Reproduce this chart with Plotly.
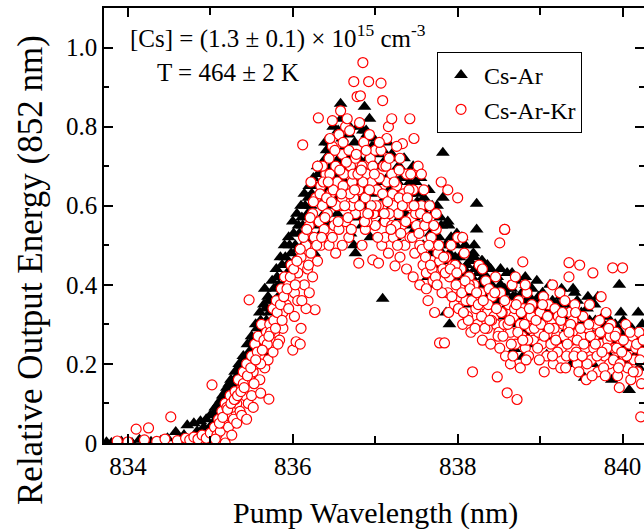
import plotly.graph_objects as go

# ---------------- data ----------------
# Cs-Ar (filled black triangles)
ar_wl = [
    833.74, 833.80, 833.92, 834.05, 834.14, 834.28, 834.40, 834.48, 834.58, 834.62,
    834.68, 834.72, 834.80, 834.84, 834.88, 834.92, 834.95, 834.98, 835.00, 835.03,
    835.06, 835.08, 835.10, 835.12, 835.15, 835.18, 835.20, 835.22, 835.25, 835.28,
    835.10, 835.16, 835.22, 835.28, 835.30, 835.32, 835.35, 835.38, 835.40, 835.42,
    835.45, 835.48, 835.50, 835.52, 835.55, 835.58, 835.60, 835.62, 835.65, 835.68,
    835.46, 835.54, 835.62, 835.66, 835.70, 835.72, 835.75, 835.78, 835.80, 835.83,
    835.85, 835.88, 835.90, 835.93, 835.95, 835.98, 836.00, 836.03, 836.05, 836.08,
    835.86, 835.92, 835.97, 836.02, 836.06, 836.10, 836.12, 836.14, 836.16, 836.18,
    836.20, 836.22, 836.25, 836.28, 836.30, 836.33, 836.35, 836.38, 836.40, 836.43,
    836.24, 836.32, 836.36, 836.42, 836.45, 836.48, 836.50, 836.52, 836.55, 836.58,
    836.26, 836.34, 836.44, 836.46, 836.50, 836.54, 836.56, 836.60, 836.62, 836.64,
    836.66, 836.68, 836.70, 836.72, 836.75, 836.78, 836.80, 836.82, 836.85, 836.88,
    836.70, 836.74, 836.86, 836.90, 836.92, 836.95, 836.98, 837.00, 837.02, 837.04,
    836.76, 836.84, 836.94, 836.96, 837.06, 837.08, 837.10, 837.12, 837.15, 837.18,
    837.20, 837.22, 837.25, 837.28, 837.30, 837.32, 837.35, 837.38, 837.40, 837.42,
    837.24, 837.34, 837.44, 837.46, 837.48, 837.50, 837.52, 837.55, 837.58, 837.60,
    837.62, 837.65, 837.68, 837.70, 837.72, 837.75, 837.78, 837.80, 837.82, 837.85,
    837.64, 837.74, 837.84, 837.88, 837.90, 837.92, 837.95, 837.98, 838.00, 838.02,
    838.05, 838.08, 838.10, 838.12, 838.15, 838.18, 838.20, 838.23, 838.25, 838.28,
    837.86, 837.90, 838.14, 838.30, 838.32, 838.35, 838.38, 838.40, 838.42, 838.45,
    838.48, 838.50, 838.52, 838.55, 838.58, 838.60, 838.63, 838.65, 838.68, 838.70,
    838.72, 838.75, 838.78, 838.80, 838.83, 838.85, 838.88, 838.90, 838.93, 838.95,
    838.98, 839.00, 839.03, 839.05, 839.08, 839.10, 839.13, 839.15, 839.18, 839.20,
    839.23, 839.25, 839.28, 839.30, 839.33, 839.35, 839.38, 839.40, 839.43, 839.45,
    839.48, 839.50, 839.54, 839.56, 839.60, 839.63, 839.66, 839.70, 839.73, 839.76,
    839.80, 839.83, 839.87, 839.90, 839.93, 839.96, 840.00, 840.03, 840.08, 840.12,
    839.96, 839.98, 840.05, 840.15, 840.18, 840.20, 840.22, 840.24, 839.40, 839.70,
    835.00, 835.05, 835.14, 835.24, 835.34, 835.44, 835.56, 835.64, 835.74, 835.84,
    838.20, 838.36, 838.52, 838.66, 838.82, 838.96, 839.12, 839.26, 839.42, 839.58,
    838.69, 838.79, 839.08, 836.58, 836.87, 836.60, 836.93, 837.82, 838.23, 837.09,
    835.04, 835.09, 835.13, 835.19, 835.23, 835.27, 835.31, 835.36, 835.41, 835.47,
    835.51, 835.57, 835.61, 835.67, 835.71, 835.77, 835.81, 835.87, 835.91, 835.96,
    836.01, 836.07, 836.11, 836.15, 836.19, 836.23, 836.27, 836.31, 836.37, 836.41,
    836.47, 836.53, 836.57, 836.63, 836.67, 836.73, 836.77, 836.83, 836.87, 836.91,
    836.97, 837.01, 837.07, 837.11, 837.17, 837.21, 837.27, 837.31, 837.37, 837.41,
    837.47, 837.51, 837.57, 837.61, 837.67, 837.71, 837.77, 837.81, 837.87, 837.91,
    837.97, 838.01, 838.07, 838.11, 838.17, 838.21, 838.27, 838.31, 838.37, 838.41,
    838.47, 838.53, 838.57, 838.61, 838.67, 838.71, 838.77, 838.81, 838.87, 838.91,
    838.97, 839.01, 839.07, 839.11, 839.17, 839.21, 839.27, 839.31, 839.37, 839.41,
    839.47, 839.51, 839.57, 839.61, 839.67, 839.71, 839.77, 839.81, 839.87, 839.91,
    839.97, 840.01, 840.07, 840.11, 840.17, 840.21, 839.64, 839.84, 840.04, 840.19,
    836.39, 836.49, 836.59, 836.69, 836.79, 836.89, 836.99, 837.09, 837.19, 837.29,
    837.39, 837.49, 837.59, 837.69, 837.79, 837.89, 837.99, 838.09, 838.19, 838.29,
]
ar_e = [
    0.002, 0.000, 0.004, 0.000, 0.008, 0.003, 0.006, 0.012, 0.028, 0.006,
    0.020, 0.045, 0.050, 0.030, 0.055, 0.040, 0.060, 0.035, 0.070, 0.050,
    0.090, 0.060, 0.100, 0.080, 0.120, 0.100, 0.140, 0.120, 0.160, 0.140,
    0.050, 0.070, 0.090, 0.110, 0.180, 0.150, 0.200, 0.170, 0.220, 0.190,
    0.250, 0.210, 0.270, 0.240, 0.300, 0.260, 0.330, 0.280, 0.350, 0.310,
    0.180, 0.220, 0.250, 0.390, 0.370, 0.330, 0.410, 0.360, 0.440, 0.400,
    0.470, 0.420, 0.500, 0.450, 0.520, 0.480, 0.560, 0.500, 0.580, 0.530,
    0.380, 0.410, 0.440, 0.460, 0.490, 0.600, 0.550, 0.630, 0.510, 0.580,
    0.650, 0.600, 0.670, 0.550, 0.700, 0.620, 0.660, 0.580, 0.720, 0.640,
    0.520, 0.500, 0.560, 0.600, 0.760, 0.680, 0.740, 0.620, 0.790, 0.700,
    0.480, 0.530, 0.550, 0.700, 0.660, 0.580, 0.720, 0.770, 0.680, 0.750,
    0.600, 0.780, 0.700, 0.640, 0.760, 0.570, 0.720, 0.660, 0.790, 0.740,
    0.530, 0.500, 0.600, 0.780, 0.680, 0.630, 0.770, 0.700, 0.580, 0.730,
    0.480, 0.550, 0.520, 0.750, 0.660, 0.560, 0.710, 0.620, 0.760, 0.680,
    0.730, 0.640, 0.600, 0.700, 0.570, 0.670, 0.720, 0.620, 0.550, 0.660,
    0.520, 0.500, 0.600, 0.700, 0.540, 0.630, 0.580, 0.670, 0.500, 0.600,
    0.550, 0.640, 0.480, 0.580, 0.520, 0.600, 0.450, 0.550, 0.620, 0.500,
    0.420, 0.400, 0.440, 0.560, 0.480, 0.520, 0.450, 0.500, 0.420, 0.470,
    0.520, 0.440, 0.480, 0.380, 0.460, 0.410, 0.500, 0.540, 0.430, 0.400,
    0.330, 0.300, 0.350, 0.460, 0.370, 0.420, 0.360, 0.440, 0.390, 0.340,
    0.420, 0.360, 0.400, 0.320, 0.380, 0.430, 0.350, 0.390, 0.300, 0.370,
    0.410, 0.340, 0.380, 0.280, 0.400, 0.360, 0.330, 0.390, 0.250, 0.350,
    0.370, 0.320, 0.380, 0.290, 0.330, 0.350, 0.310, 0.360, 0.270, 0.340,
    0.300, 0.370, 0.250, 0.330, 0.290, 0.350, 0.200, 0.310, 0.270, 0.360,
    0.280, 0.330, 0.165, 0.260, 0.310, 0.240, 0.350, 0.280, 0.220, 0.320,
    0.270, 0.300, 0.160, 0.250, 0.290, 0.210, 0.270, 0.240, 0.134, 0.260,
    0.400, 0.330, 0.300, 0.220, 0.280, 0.190, 0.250, 0.300, 0.390, 0.370,
    0.030, 0.040, 0.060, 0.100, 0.130, 0.160, 0.200, 0.230, 0.280, 0.330,
    0.470, 0.450, 0.440, 0.430, 0.420, 0.410, 0.400, 0.390, 0.380, 0.370,
    0.238, 0.218, 0.223, 0.858, 0.850, 0.823, 0.820, 0.734, 0.605, 0.365,
    0.075, 0.085, 0.110, 0.130, 0.150, 0.130, 0.165, 0.190, 0.210, 0.230,
    0.260, 0.290, 0.310, 0.340, 0.360, 0.390, 0.420, 0.450, 0.470, 0.500,
    0.530, 0.550, 0.570, 0.600, 0.620, 0.630, 0.650, 0.680, 0.700, 0.740,
    0.640, 0.710, 0.600, 0.660, 0.720, 0.680, 0.620, 0.700, 0.640, 0.720,
    0.600, 0.650, 0.700, 0.580, 0.640, 0.600, 0.660, 0.620, 0.580, 0.630,
    0.570, 0.610, 0.550, 0.580, 0.530, 0.500, 0.520, 0.480, 0.500, 0.460,
    0.470, 0.450, 0.430, 0.450, 0.420, 0.440, 0.400, 0.420, 0.390, 0.400,
    0.380, 0.360, 0.390, 0.350, 0.370, 0.330, 0.360, 0.320, 0.370, 0.310,
    0.340, 0.360, 0.310, 0.330, 0.300, 0.350, 0.320, 0.280, 0.340, 0.290,
    0.320, 0.300, 0.340, 0.280, 0.310, 0.260, 0.300, 0.320, 0.270, 0.300,
    0.280, 0.310, 0.260, 0.290, 0.240, 0.270, 0.200, 0.220, 0.200, 0.330,
    0.760, 0.800, 0.820, 0.800, 0.800, 0.790, 0.750, 0.740, 0.720, 0.700,
    0.680, 0.660, 0.620, 0.600, 0.570, 0.550, 0.530, 0.500, 0.480, 0.460,
]

# Cs-Ar-Kr (open red circles)
kr_wl = [
    833.87, 834.00, 834.10, 834.20, 834.25, 834.35, 834.45, 834.52, 834.60, 834.70,
    834.75, 834.80, 834.85, 834.90, 834.95, 835.00, 835.02, 835.05, 835.08, 835.10,
    835.12, 835.14, 835.16, 835.18, 835.20, 835.22, 835.24, 835.26, 835.28, 835.30,
    835.32, 835.34, 835.36, 835.38, 835.40, 835.42, 835.44, 835.46, 835.48, 835.50,
    835.18, 835.26, 835.32, 835.38, 835.44, 835.50, 835.20, 835.30, 835.40, 835.52,
    835.52, 835.54, 835.56, 835.58, 835.60, 835.62, 835.61, 835.66, 835.68, 835.71,
    835.72, 835.74, 835.76, 835.78, 835.80, 835.82, 835.84, 835.86, 835.88, 835.90,
    835.47, 835.60, 835.66, 835.70, 835.76, 835.82, 835.88, 835.92, 835.95, 835.98,
    836.00, 836.02, 836.04, 836.06, 836.09, 836.10, 836.12, 836.14, 836.16, 836.18,
    836.20, 836.22, 836.24, 836.26, 836.27, 836.28, 836.31, 836.32, 836.34, 836.36,
    836.02, 836.06, 836.10, 836.16, 836.20, 836.24, 836.30, 836.34, 836.38, 836.40,
    836.42, 836.44, 836.46, 836.48, 836.50, 836.52, 836.54, 836.56, 836.58, 836.60,
    836.62, 836.64, 836.66, 836.68, 836.70, 836.72, 836.74, 836.76, 836.78, 836.80,
    836.44, 836.48, 836.52, 836.56, 836.60, 836.64, 836.68, 836.72, 836.76, 836.80,
    836.82, 836.84, 836.85, 836.86, 836.88, 836.90, 836.92, 836.94, 836.96, 836.98,
    837.00, 837.02, 837.04, 837.07, 837.09, 837.10, 837.12, 837.14, 837.16, 837.18,
    836.84, 836.88, 836.92, 836.97, 837.00, 837.04, 837.08, 837.12, 837.16, 837.20,
    837.20, 837.22, 837.24, 837.26, 837.28, 837.30, 837.32, 837.34, 837.36, 837.38,
    837.40, 837.42, 837.44, 837.46, 837.48, 837.50, 837.52, 837.54, 837.56, 837.58,
    837.22, 837.30, 837.38, 837.46, 837.54, 837.62, 837.66, 837.70, 837.74, 837.78,
    837.60, 837.64, 837.68, 837.72, 837.76, 837.78, 837.84, 837.88, 837.92, 837.96,
    837.62, 837.70, 837.74, 837.82, 837.86, 837.90, 837.94, 837.98, 838.00, 838.02,
    838.04, 838.06, 838.08, 838.10, 838.12, 838.14, 838.16, 838.18, 838.20, 838.22,
    838.24, 838.26, 838.28, 838.30, 838.32, 838.34, 838.36, 838.38, 838.40, 838.42,
    838.44, 838.46, 838.48, 838.51, 838.06, 838.14, 838.30, 838.36, 838.46, 838.50,
    838.52, 838.54, 838.56, 838.57, 838.60, 838.62, 838.64, 838.66, 838.68, 838.70,
    838.72, 838.74, 838.76, 838.78, 838.79, 838.80, 838.82, 838.84, 838.86, 838.88,
    838.58, 838.64, 838.70, 838.76, 838.82, 838.86, 838.90, 838.92, 838.94, 838.98,
    839.00, 839.02, 839.04, 839.06, 839.08, 839.10, 839.12, 839.14, 839.16, 839.18,
    839.20, 839.22, 839.24, 839.26, 839.28, 839.30, 839.32, 839.34, 839.36, 839.38,
    839.40, 839.42, 839.44, 839.46, 839.48, 839.05, 839.15, 839.25, 839.35, 839.45,
    839.50, 839.52, 839.55, 839.58, 839.60, 839.62, 839.64, 839.66, 839.68, 839.70,
    839.72, 839.74, 839.76, 839.78, 839.80, 839.82, 839.84, 839.86, 839.88, 839.90,
    839.92, 839.94, 839.96, 839.98, 840.00, 840.02, 840.04, 840.06, 840.08, 840.10,
    840.12, 840.14, 840.16, 840.18, 840.20, 840.22, 840.24, 839.35, 839.56, 839.74,
    836.48, 837.20, 837.42, 837.47, 837.33, 836.36, 837.26, 837.14, 836.58, 836.66,
    837.88, 838.57, 838.00, 837.80, 837.56, 836.90, 836.74, 836.60, 836.30, 836.22,
    835.06, 835.11, 835.15, 835.21, 835.25, 835.29, 835.33, 835.37, 835.41, 835.45,
    835.49, 835.53, 835.57, 835.61, 835.65, 835.69, 835.73, 835.77, 835.81, 835.85,
    835.89, 835.93, 835.97, 836.01, 836.05, 836.09, 836.13, 836.17, 836.21, 836.25,
    835.55, 835.63, 835.71, 835.79, 835.87, 835.95, 836.03, 836.11, 836.19, 836.29,
    836.33, 836.37, 836.41, 836.45, 836.49, 836.53, 836.57, 836.61, 836.65, 836.69,
    836.73, 836.77, 836.81, 836.85, 836.89, 836.93, 836.97, 837.01, 837.05, 837.09,
    837.13, 837.17, 837.21, 837.25, 837.29, 837.33, 837.37, 837.41, 837.45, 837.49,
    836.55, 836.63, 836.71, 836.79, 836.87, 836.95, 837.03, 837.11, 837.19, 837.27,
    837.53, 837.57, 837.61, 837.65, 837.69, 837.73, 837.77, 837.81, 837.85, 837.89,
    837.93, 837.97, 838.01, 838.05, 838.09, 838.13, 838.17, 838.21, 838.25, 838.29,
    838.33, 838.37, 838.41, 838.45, 838.49, 838.53, 838.57, 838.61, 838.65, 838.69,
    838.73, 838.77, 838.81, 838.85, 838.89, 838.93, 838.97, 839.01, 839.05, 839.09,
    839.13, 839.17, 839.21, 839.25, 839.29, 839.33, 839.37, 839.41, 839.45, 839.49,
    839.53, 839.57, 839.61, 839.65, 839.69, 839.73, 839.77, 839.81, 839.85, 839.89,
    839.93, 839.97, 840.01, 840.05, 840.09, 840.13, 840.17, 840.21, 840.23, 840.25,
    836.35, 836.39, 836.43, 836.47, 836.51, 836.59, 836.67, 836.75, 836.83, 836.91,
    836.99, 837.07, 837.15, 837.23, 837.31, 837.39, 837.47, 837.55, 837.63, 837.71,
    836.45, 836.61, 836.69, 836.81, 836.93, 837.05, 837.17, 837.29, 837.43, 837.59,
    837.67, 837.75, 837.83, 837.91, 837.99, 838.07, 838.15, 838.23, 838.31, 838.39,
    838.47, 838.55, 838.63, 838.71, 838.79, 838.87, 838.95, 839.03, 839.11, 839.19,
    839.27, 839.35, 839.43, 839.51, 839.59, 839.67, 839.75, 839.83, 839.91, 839.99,
    838.51, 838.67, 838.83, 838.99, 839.15, 839.31, 839.47, 839.63, 839.79, 839.95,
]
kr_e = [
    0.005, 0.003, 0.035, 0.008, 0.038, 0.004, 0.010, 0.066, 0.006, 0.012,
    0.008, 0.015, 0.010, 0.020, 0.012, 0.025, 0.147, 0.040, 0.020, 0.060,
    0.030, 0.080, 0.050, 0.100, 0.070, 0.040, 0.120, 0.090, 0.060, 0.130,
    0.100, 0.160, 0.080, 0.140, 0.180, 0.120, 0.200, 0.100, 0.160, 0.220,
    0.000, 0.020, 0.050, 0.070, 0.060, 0.120, 0.090, 0.110, 0.150, 0.090,
    0.180, 0.250, 0.200, 0.270, 0.220, 0.300, 0.126, 0.240, 0.280, 0.111,
    0.300, 0.260, 0.340, 0.280, 0.360, 0.310, 0.260, 0.390, 0.330, 0.420,
    0.362, 0.160, 0.190, 0.210, 0.230, 0.250, 0.290, 0.350, 0.400, 0.450,
    0.235, 0.380, 0.256, 0.430, 0.250, 0.470, 0.754, 0.400, 0.500, 0.440,
    0.550, 0.480, 0.580, 0.520, 0.337, 0.620, 0.822, 0.560, 0.650, 0.600,
    0.320, 0.360, 0.290, 0.340, 0.380, 0.420, 0.460, 0.500, 0.540, 0.680,
    0.580, 0.720, 0.630, 0.750, 0.550, 0.700, 0.660, 0.780, 0.600, 0.730,
    0.680, 0.800, 0.620, 0.740, 0.700, 0.660, 0.914, 0.580, 0.876, 0.640,
    0.500, 0.520, 0.480, 0.540, 0.500, 0.560, 0.520, 0.600, 0.720, 0.455,
    0.878, 0.700, 0.962, 0.760, 0.620, 0.680, 0.914, 0.720, 0.660, 0.580,
    0.740, 0.640, 0.600, 0.910, 0.866, 0.700, 0.560, 0.660, 0.800, 0.620,
    0.500, 0.540, 0.580, 0.463, 0.550, 0.455, 0.500, 0.520, 0.480, 0.550,
    0.680, 0.600, 0.448, 0.650, 0.580, 0.720, 0.550, 0.630, 0.500, 0.680,
    0.600, 0.520, 0.570, 0.640, 0.480, 0.550, 0.700, 0.500, 0.600, 0.450,
    0.520, 0.470, 0.440, 0.420, 0.400, 0.430, 0.600, 0.500, 0.540, 0.460,
    0.550, 0.360, 0.520, 0.330, 0.480, 0.253, 0.253, 0.380, 0.500, 0.350,
    0.390, 0.410, 0.580, 0.440, 0.470, 0.420, 0.450, 0.400, 0.520, 0.370,
    0.440, 0.300, 0.480, 0.360, 0.320, 0.420, 0.280, 0.180, 0.400, 0.340,
    0.300, 0.450, 0.380, 0.260, 0.350, 0.410, 0.330, 0.390, 0.250, 0.370,
    0.320, 0.300, 0.167, 0.506, 0.520, 0.400, 0.440, 0.290, 0.420, 0.280,
    0.380, 0.330, 0.300, 0.540, 0.127, 0.350, 0.280, 0.400, 0.320, 0.250,
    0.110, 0.360, 0.300, 0.270, 0.458, 0.340, 0.240, 0.380, 0.310, 0.290,
    0.220, 0.200, 0.420, 0.190, 0.400, 0.220, 0.350, 0.260, 0.320, 0.280,
    0.330, 0.250, 0.370, 0.300, 0.220, 0.350, 0.280, 0.310, 0.200, 0.340,
    0.270, 0.320, 0.380, 0.240, 0.300, 0.360, 0.220, 0.290, 0.330, 0.260,
    0.310, 0.350, 0.230, 0.280, 0.450, 0.180, 0.400, 0.190, 0.420, 0.200,
    0.270, 0.320, 0.240, 0.290, 0.350, 0.210, 0.430, 0.270, 0.300, 0.180,
    0.310, 0.250, 0.280, 0.220, 0.330, 0.260, 0.200, 0.300, 0.443, 0.240,
    0.280, 0.170, 0.140, 0.260, 0.443, 0.220, 0.300, 0.190, 0.250, 0.160,
    0.270, 0.210, 0.240, 0.180, 0.280, 0.066, 0.230, 0.456, 0.160, 0.370,
    0.815, 0.820, 0.820, 0.770, 0.757, 0.700, 0.750, 0.770, 0.840, 0.820,
    0.640, 0.540, 0.620, 0.660, 0.680, 0.560, 0.620, 0.620, 0.700, 0.660,
    0.010, 0.050, 0.065, 0.085, 0.100, 0.110, 0.120, 0.130, 0.140, 0.170,
    0.190, 0.150, 0.230, 0.200, 0.260, 0.250, 0.280, 0.310, 0.330, 0.350,
    0.370, 0.390, 0.420, 0.440, 0.460, 0.490, 0.520, 0.540, 0.570, 0.610,
    0.210, 0.235, 0.270, 0.290, 0.310, 0.340, 0.400, 0.360, 0.450, 0.500,
    0.630, 0.660, 0.620, 0.680, 0.640, 0.600, 0.690, 0.650, 0.710, 0.630,
    0.680, 0.730, 0.600, 0.660, 0.740, 0.640, 0.700, 0.600, 0.670, 0.630,
    0.700, 0.580, 0.630, 0.550, 0.620, 0.600, 0.560, 0.640, 0.520, 0.580,
    0.560, 0.600, 0.540, 0.680, 0.560, 0.600, 0.520, 0.580, 0.540, 0.500,
    0.530, 0.490, 0.470, 0.500, 0.440, 0.420, 0.500, 0.380, 0.430, 0.330,
    0.370, 0.450, 0.340, 0.380, 0.410, 0.310, 0.360, 0.290, 0.350, 0.320,
    0.290, 0.350, 0.310, 0.380, 0.270, 0.330, 0.360, 0.300, 0.250, 0.340,
    0.280, 0.330, 0.300, 0.260, 0.320, 0.290, 0.240, 0.300, 0.270, 0.320,
    0.250, 0.290, 0.230, 0.310, 0.270, 0.250, 0.300, 0.220, 0.260, 0.290,
    0.250, 0.200, 0.270, 0.240, 0.220, 0.280, 0.190, 0.240, 0.270, 0.210,
    0.240, 0.200, 0.260, 0.220, 0.280, 0.180, 0.250, 0.210, 0.150, 0.260,
    0.520, 0.570, 0.660, 0.610, 0.740, 0.630, 0.570, 0.640, 0.690, 0.580,
    0.680, 0.740, 0.610, 0.660, 0.530, 0.620, 0.600, 0.580, 0.570, 0.550,
    0.770, 0.760, 0.790, 0.810, 0.780, 0.760, 0.720, 0.690, 0.680, 0.640,
    0.450, 0.400, 0.470, 0.440, 0.430, 0.330, 0.390, 0.380, 0.360, 0.310,
    0.340, 0.270, 0.310, 0.350, 0.260, 0.340, 0.310, 0.350, 0.290, 0.260,
    0.330, 0.280, 0.330, 0.220, 0.300, 0.250, 0.230, 0.290, 0.270, 0.230,
    0.240, 0.220, 0.210, 0.210, 0.220, 0.190, 0.180, 0.170, 0.170, 0.190,
]

assert len(ar_wl) == len(ar_e)
assert len(kr_wl) == len(kr_e)

x_tickvals = [834, 836, 838, 840]
x_ticktext = ["834", "836", "838", "840"]
y_tickvals = [0, 0.2, 0.4, 0.6, 0.8, 1.0]
y_ticktext = ["0", "0.2", "0.4", "0.6", "0.8", "1.0"]

FONT = "Liberation Serif, Times New Roman, serif"

# plot-area geometry in pixels
L, R, T, B = 104, 644, 8, 443
PW, PH = R - L, B - T

fig = go.Figure()
fig.add_trace(go.Scatter(
    x=ar_wl, y=ar_e, mode="markers", name="Cs-Ar",
    marker=dict(symbol="triangle-up", size=12, color="black",
                line=dict(width=0)),
))
fig.add_trace(go.Scatter(
    x=kr_wl, y=kr_e, mode="markers", name="Cs-Ar-Kr",
    marker=dict(symbol="circle", size=10, color="white",
                line=dict(color="#ff0000", width=1.2)),
))

axis_common = dict(
    showline=True, linecolor="black", linewidth=1.5, mirror="ticks",
    ticks="inside", ticklen=9, tickwidth=1.5, tickcolor="black",
    showgrid=False, zeroline=False, automargin=False,
    tickfont=dict(family=FONT, size=25, color="black"),
)

fig.update_xaxes(
    **axis_common,
    range=[833.71, 840.26],
    tickvals=x_tickvals, ticktext=x_ticktext,
    minor=dict(ticks="inside", ticklen=7, tickwidth=1.5, tickcolor="black", dtick=1),
)
fig.update_yaxes(
    **axis_common,
    range=[0, 1.1],
    tickvals=y_tickvals, ticktext=y_ticktext,
    minor=dict(ticks="inside", ticklen=5, tickwidth=1.5, tickcolor="black",
               tickvals=[0.1, 0.3, 0.5, 0.7, 0.9]),
)

fig.update_layout(
    width=644, height=529,
    margin=dict(l=L, r=0, t=T, b=529 - B, autoexpand=False),
    paper_bgcolor="white", plot_bgcolor="white",
    font=dict(family=FONT, color="black"),
    legend=dict(
        x=(437 - L) / PW, y=(B - 52) / PH, xanchor="left", yanchor="top",
        bordercolor="black", borderwidth=1, bgcolor="white",
        font=dict(family=FONT, size=24, color="black"),
        tracegroupgap=0, itemwidth=36,
    ),
    annotations=[
        dict(text="[Cs] = (1.3 ± 0.1) × 10<sup>15</sup> cm<sup>-3</sup>",
             xref="paper", yref="paper", x=(128 - L) / PW, y=(B - 37) / PH,
             xanchor="left", yanchor="middle", showarrow=False,
             font=dict(family=FONT, size=25, color="black")),
        dict(text="T = 464 ± 2 K",
             xref="paper", yref="paper", x=(155 - L) / PW, y=(B - 72) / PH,
             xanchor="left", yanchor="middle", showarrow=False,
             font=dict(family=FONT, size=25, color="black")),
        dict(text="Pump Wavelength (nm)",
             xref="paper", yref="paper", x=(375 - L) / PW, y=(B - 513) / PH,
             xanchor="center", yanchor="middle", showarrow=False,
             font=dict(family=FONT, size=30, color="black")),
        dict(text="Relative Output Energy (852 nm)", textangle=-90,
             xref="paper", yref="paper", x=(30 - L) / PW, y=(B - 270) / PH,
             xanchor="center", yanchor="middle", showarrow=False,
             font=dict(family=FONT, size=35, color="black")),
    ],
)

fig.write_html("out.html", config={"displayModeBar": False},
               post_script="document.body.style.margin='0';document.body.style.padding='0';")
